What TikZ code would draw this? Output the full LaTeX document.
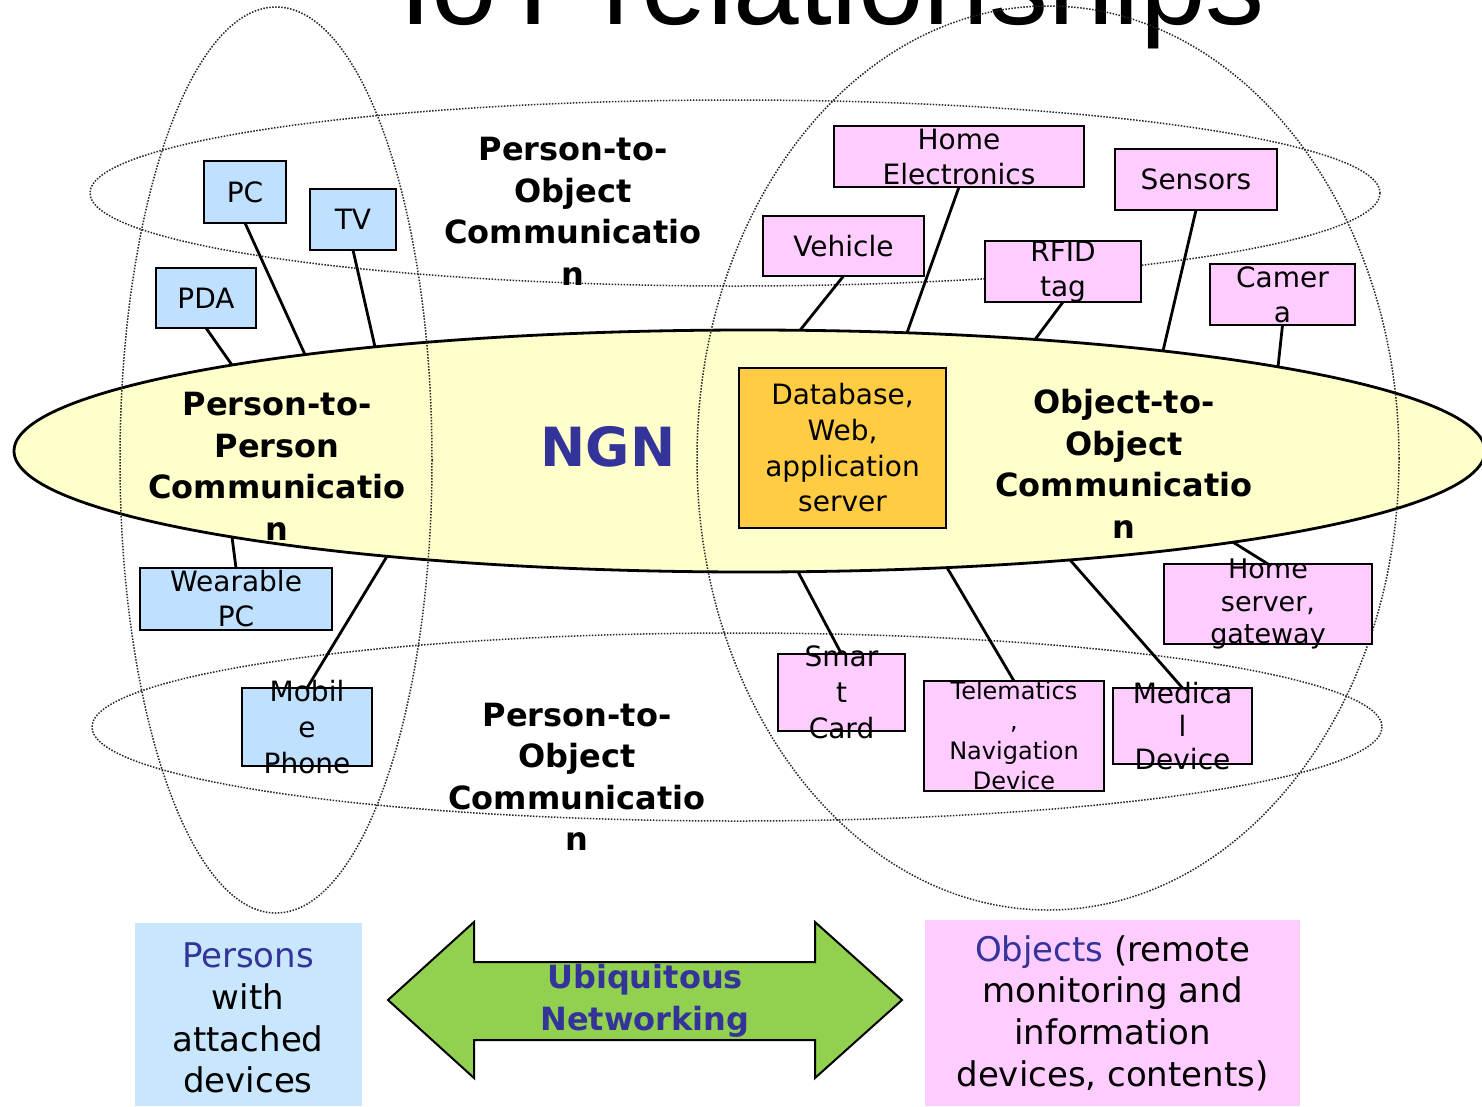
\documentclass[tikz,border=0pt]{standalone}
\usepackage{fontspec}
\setmainfont{DejaVu Sans}
\newfontfamily\titlefont{Liberation Sans}
\usetikzlibrary{shapes.geometric}
\definecolor{boxblue}{RGB}{192,224,255}
\definecolor{boxpink}{RGB}{255,204,255}
\definecolor{ngnyellow}{RGB}{255,255,204}
\definecolor{dbgold}{RGB}{255,204,68}
\definecolor{tblue}{RGB}{51,51,153}
\definecolor{arrowgreen}{RGB}{146,208,80}
\definecolor{panelblue}{RGB}{200,230,252}
\begin{document}
\begin{tikzpicture}[x=1pt,y=-1pt,
  dotring/.style={draw=black!85, line width=1.5pt, dash pattern=on 1.5pt off 1.5pt},
  conn/.style={draw=black, line width=2.8pt},
  bbox/.style={draw=black, line width=2.8pt, fill=boxblue, inner sep=0pt, outer sep=0pt},
  pbox/.style={draw=black, line width=2.8pt, fill=boxpink, inner sep=0pt, outer sep=0pt},
  gbox/.style={draw=black, line width=2.8pt, fill=dbgold, inner sep=0pt, outer sep=0pt},
  btxt/.style={font=\fontsize{28}{35}\selectfont, align=center, inner sep=0pt},
  bigtxt/.style={font=\fontsize{32}{41.5}\selectfont\bfseries, align=center, inner sep=0pt},
  ptxt/.style={font=\fontsize{34}{41.7}\selectfont, align=center, inner sep=0pt}]
\useasboundingbox (0,0) rectangle (1482,1106);
\fill[white] (0,0) rectangle (1482,1106);

% title (cut off at top)
\node[font=\fontsize{118}{120}\selectfont\titlefont, anchor=base, inner sep=0pt] (title) at (832,24) {IoT relationships};

% NGN ellipse
\node[ellipse, draw=black, line width=2.8pt, fill=ngnyellow, minimum width=1471, minimum height=242, inner sep=0pt, outer sep=0pt] (ngn) at (749.5,451) {};

% attachment points on the NGN border
\coordinate (e-pda) at (232,365);
\coordinate (e-pc) at (305,354.6);
\coordinate (e-tv) at (375,346.9);
\coordinate (e-wpc) at (232,537);
\coordinate (e-mob) at (387,556.3);
\coordinate (e-veh) at (800,330.3);
\coordinate (e-he) at (907,332.8);
\coordinate (e-rfid) at (1035,339.5);
\coordinate (e-sens) at (1163,350.9);
\coordinate (e-cam) at (1278,366.9);
\coordinate (e-hs) at (1233,542.2);
\coordinate (e-sc) at (798,571.7);
\coordinate (e-tel) at (947,567.6);
\coordinate (e-med) at (1070,559.9);

% dotted rings
\draw[dotring] (276,460) ellipse [x radius=156, y radius=453];
\draw[dotring] (1048,458) ellipse [x radius=351, y radius=452];
\draw[dotring] (735,193) ellipse [x radius=645, y radius=93];
\draw[dotring] (737,727) ellipse [x radius=645, y radius=94];

% bottom panels
\fill[panelblue] (135,923) rectangle (362,1106);
\fill[boxpink] (925,920) rectangle (1300,1106);

% double arrow
\draw[fill=arrowgreen, draw=black, line width=2pt, line join=miter]
  (388,1000) -- (474,922) -- (474,962) -- (815,962) -- (815,922) -- (902,1000)
  -- (815,1078) -- (815,1040) -- (474,1040) -- (474,1078) -- cycle;

% boxes
\node[bbox, minimum width=82, minimum height=62] (pc) at (245,192) {};
\node[bbox, minimum width=86, minimum height=61] (tv) at (353,219.5) {};
\node[bbox, minimum width=100, minimum height=60] (pda) at (206,298) {};
\node[bbox, minimum width=192, minimum height=62] (wpc) at (236,599) {};
\node[bbox, minimum width=130, minimum height=78] (mob) at (307,727) {};
\node[pbox, minimum width=250, minimum height=61] (he) at (959,156.5) {};
\node[pbox, minimum width=162, minimum height=61] (sens) at (1196,179.5) {};
\node[pbox, minimum width=161, minimum height=60] (veh) at (843.5,246) {};
\node[pbox, minimum width=156, minimum height=61] (rfid) at (1063,271.5) {};
\node[pbox, minimum width=145, minimum height=61] (cam) at (1282.5,294.5) {};
\node[pbox, minimum width=208, minimum height=80] (hs) at (1268,604) {};
\node[pbox, minimum width=127, minimum height=77] (sc) at (841.5,692.5) {};
\node[pbox, minimum width=180, minimum height=110] (tel) at (1014,736) {};
\node[pbox, minimum width=139, minimum height=76] (med) at (1182.5,726) {};
\node[gbox, minimum width=207, minimum height=160] (db) at (842.5,448) {};

% connectors
\draw[conn] (pda.south) -- (e-pda);
\draw[conn] (pc.south) -- (e-pc);
\draw[conn] (tv.south) -- (e-tv);
\draw[conn] (wpc.north) -- (e-wpc);
\draw[conn] (mob.north) -- (e-mob);
\draw[conn] (veh.south) -- (e-veh);
\draw[conn] (he.south) -- (e-he);
\draw[conn] (rfid.south) -- (e-rfid);
\draw[conn] (sens.south) -- (e-sens);
\draw[conn] (cam.south) -- (e-cam);
\draw[conn] (hs.north) -- (e-hs);
\draw[conn] (sc.north) -- (e-sc);
\draw[conn] (tel.north) -- (e-tel);
\draw[conn] (med.north) -- (e-med);

% box texts
\node[btxt] (pc-t) at (pc) {PC};
\node[btxt] (tv-t) at (tv) {TV};
\node[btxt] (pda-t) at (pda) {PDA};
\node[btxt] (wpc-t) at (wpc) {Wearable\\PC};
\node[btxt, font=\fontsize{28}{36}\selectfont] (mob-t) at (mob) {Mobil\\e\\Phone};
\node[btxt] (he-t) at (he) {Home\\Electronics};
\node[btxt] (sens-t) at (sens) {Sensors};
\node[btxt] (veh-t) at (veh) {Vehicle};
\node[btxt] (rfid-t) at (rfid) {RFID\\tag};
\node[btxt] (cam-t) at (cam) {Camer\\a};
\node[btxt, font=\fontsize{27}{32.5}\selectfont] (hs-t) at (hs) {Home\\server,\\gateway};
\node[btxt, font=\fontsize{28}{36}\selectfont] (sc-t) at (sc) {Smar\\t\\Card};
\node[btxt, font=\fontsize{24}{30}\selectfont] (tel-t) at (tel) {Telematics\\,\\Navigation\\Device};
\node[btxt, font=\fontsize{28}{33}\selectfont] (med-t) at (med) {Medica\\l\\Device};
\node[btxt, font=\fontsize{28}{35.7}\selectfont] (db-t) at (db) {Database,\\Web,\\application\\server};

% big labels
\node[bigtxt] (p2o-top) at (573,211.5) {Person-to-\\Object\\Communicatio\\n};
\node[bigtxt] (p2o-bot) at (577,777) {Person-to-\\Object\\Communicatio\\n};
\node[bigtxt] (p2p) at (277,466.5) {Person-to-\\Person\\Communicatio\\n};
\node[bigtxt] (o2o) at (1124,464) {Object-to-\\Object\\Communicatio\\n};
\node[font=\fontsize{54}{60}\selectfont\bfseries, text=tblue, inner sep=0pt] (ngn-t) at (608,447) {NGN};

% bottom texts
\node[ptxt] (pers-t) at (248,1018) {\textcolor{tblue}{Persons}\\with\\attached\\devices};
\node[ptxt] (obj-t) at (1112.5,1013) {\textcolor{tblue}{Objects} (remote\\monitoring and\\information\\devices, contents)};
\node[bigtxt, text=tblue] (ubi-t) at (645,1001) {Ubiquitous\\Networking};
\end{tikzpicture}
\end{document}
